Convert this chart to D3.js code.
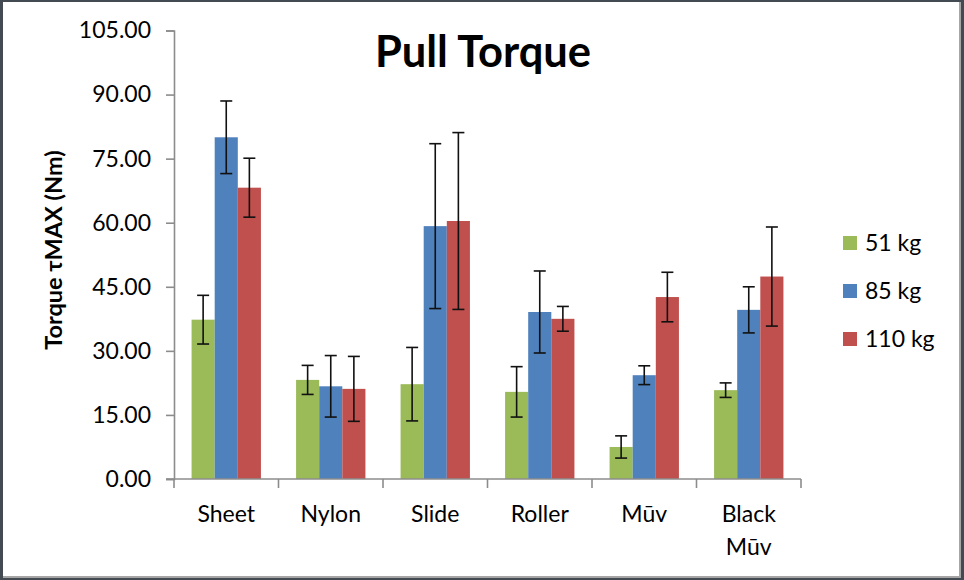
<!DOCTYPE html>
<html>
<head>
<meta charset="utf-8">
<script src="https://cdnjs.cloudflare.com/ajax/libs/d3/7.8.5/d3.min.js"></script>
<style>
  body { margin: 0; background: #fff; }
  svg { display: block; }
  text { font-family: Lato, "Open Sans", sans-serif; fill: #000; }
</style>
</head>
<body>
<div id="chart"></div>
<script>

var width = 964;
var height = 580;

// data
var categories = ["Sheet", "Nylon", "Slide", "Roller", "Mūv", "Black Mūv"];
var seriesNames = ["51 kg", "85 kg", "110 kg"];
var seriesColors = ["#9bbb59", "#4f81bd", "#c0504d"];
var values51 = [37.3, 23.2, 22.2, 20.4, 7.5, 20.8];
var values85 = [80.0, 21.7, 59.2, 39.1, 24.3, 39.6];
var values110 = [68.2, 21.1, 60.4, 37.5, 42.6, 47.4];
var err51 = [5.7, 3.4, 8.6, 5.9, 2.6, 1.7];
var err85 = [8.5, 7.2, 19.3, 9.6, 2.2, 5.4];
var err110 = [6.9, 7.6, 20.7, 2.9, 5.8, 11.6];
var yTicks = [0, 15, 30, 45, 60, 75, 90, 105];

var seriesValues = [values51, values85, values110];
var seriesErrors = [err51, err85, err110];

// flatten for drawing
var bars = [];
categories.forEach(function(c, i) {
	seriesNames.forEach(function(s, j) {
		bars.push({ cat: c, series: s, color: seriesColors[j], value: seriesValues[j][i], err: seriesErrors[j][i] });
	});
});

var svg = d3.select("#chart")
	.append("svg")
		.attr("width", width)
		.attr("height", height)
		;

// frame
svg.append("rect")
	.attr("x", 0).attr("y", 0)
	.attr("width", width).attr("height", height)
	.attr("fill", "#434a52");
svg.append("rect")
	.attr("x", 3).attr("y", 2)
	.attr("width", 958).attr("height", 576)
	.attr("fill", "#a6a6a6");
svg.append("rect")
	.attr("x", 3).attr("y", 2)
	.attr("width", 956).attr("height", 574)
	.attr("fill", "#ffffff");

var x0 = d3.scaleBand()
	.domain(categories)
	.range([174, 801])
	;

var x1 = d3.scaleBand()
	.domain(seriesNames)
	.range([0, x0.bandwidth()])
	.paddingOuter(0.76)
	;

var y = d3.scaleLinear()
	.domain([0, 105])
	.range([479, 30.5])
	;

// bars
svg.selectAll("rect.bar")
	.data(bars)
	.enter().append("rect")
	.attr("class", "bar")
	.attr("x", function(d) { return x0(d.cat) + x1(d.series); })
	.attr("y", function(d) { return y(d.value); })
	.attr("width", x1.bandwidth())
	.attr("height", function(d) { return y(0) - y(d.value); })
	.attr("fill", function(d) { return d.color; })
	;

// error bars
var eb = svg.selectAll("g.err")
	.data(bars)
	.enter().append("g")
	.attr("class", "err")
	.attr("stroke", "#111")
	.attr("stroke-width", 1.6)
	;

eb.append("line")
	.attr("x1", function(d) { return x0(d.cat) + x1(d.series) + x1.bandwidth() / 2; })
	.attr("x2", function(d) { return x0(d.cat) + x1(d.series) + x1.bandwidth() / 2; })
	.attr("y1", function(d) { return y(d.value + d.err); })
	.attr("y2", function(d) { return y(d.value - d.err); })
	;
[1, -1].forEach(function(sgn) {
	eb.append("line")
		.attr("x1", function(d) { return x0(d.cat) + x1(d.series) + x1.bandwidth() / 2 - 6; })
		.attr("x2", function(d) { return x0(d.cat) + x1(d.series) + x1.bandwidth() / 2 + 6; })
		.attr("y1", function(d) { return y(d.value + sgn * d.err); })
		.attr("y2", function(d) { return y(d.value + sgn * d.err); })
		;
});

// y axis
var yAxis = svg.append("g")
	.attr("transform", "translate(174,0)")
	.call(d3.axisLeft(y).tickValues(yTicks).tickSize(8).tickPadding(15)
		.tickFormat(function(d) { return d3.format(".2f")(d); }))
	;
yAxis.select(".domain").attr("stroke", "#8c8c8c").attr("stroke-width", 1.6);
yAxis.selectAll(".tick line").attr("stroke", "#8c8c8c").attr("stroke-width", 1.6);
yAxis.selectAll(".tick text")
	.attr("font-family", "Lato, sans-serif")
	.attr("font-size", 23)
	.attr("fill", "#000")
	;

// x axis
var xAxis = svg.append("g")
	.attr("transform", "translate(0,479)")
	;
xAxis.append("line")
	.attr("x1", 166).attr("x2", 801)
	.attr("stroke", "#8c8c8c").attr("stroke-width", 1.6);
xAxis.selectAll("line.tk")
	.data(categories.concat(["end"]))
	.enter().append("line")
	.attr("class", "tk")
	.attr("x1", function(d, i) { return i < categories.length ? x0(d) : x0.range()[1]; })
	.attr("x2", function(d, i) { return i < categories.length ? x0(d) : x0.range()[1]; })
	.attr("y1", 0).attr("y2", 9)
	.attr("stroke", "#8c8c8c").attr("stroke-width", 1.6)
	;

var catText = xAxis.selectAll("text.cat")
	.data(categories)
	.enter().append("text")
	.attr("class", "cat")
	.attr("x", function(d) { return x0(d) + x0.bandwidth() / 2; })
	.attr("y", 43)
	.attr("text-anchor", "middle")
	.attr("font-size", 23)
	;
catText.each(function(d) {
	var words = d.split(" ");
	var t = d3.select(this);
	words.forEach(function(w, k) {
		t.append("tspan")
			.attr("x", x0(d) + x0.bandwidth() / 2)
			.attr("dy", k === 0 ? 0 : 33)
			.text(w);
	});
});

// title
svg.append("text")
	.attr("x", 483)
	.attr("y", 67)
	.attr("text-anchor", "middle")
	.attr("font-size", 43.5)
	.attr("font-weight", "bold")
	.text("Pull Torque")
	;

// y label
svg.append("text")
	.attr("transform", "translate(62,250) rotate(-90)")
	.attr("text-anchor", "middle")
	.attr("font-size", 23.5)
	.attr("font-weight", "bold")
	.text("Torque τMAX (Nm)")
	;

// legend
var legend = svg.selectAll("g.legend")
	.data(seriesNames)
	.enter().append("g")
	.attr("class", "legend")
	.attr("transform", function(d, i) { return "translate(843," + (243 + i * 48) + ")"; })
	;
legend.append("rect")
	.attr("x", 0).attr("y", -7)
	.attr("width", 14).attr("height", 14)
	.attr("fill", function(d, i) { return seriesColors[i]; })
	;
legend.append("text")
	.attr("x", 22)
	.attr("y", 8)
	.attr("font-size", 23)
	.text(function(d) { return d; })
	;

</script>
</body>
</html>
